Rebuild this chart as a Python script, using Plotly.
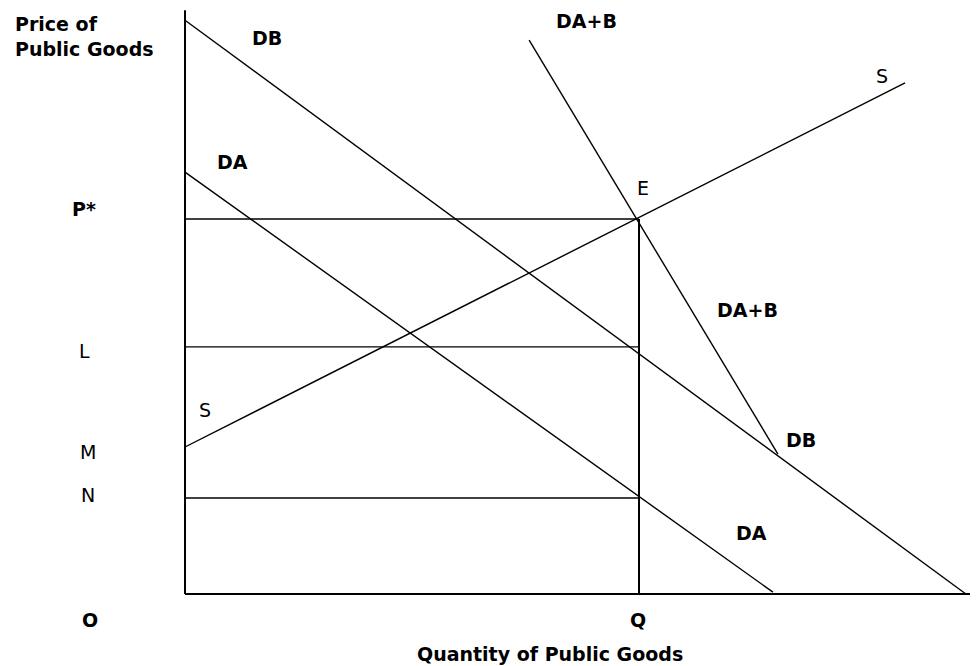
import plotly.graph_objects as go

# Demand and supply curves for a public good (arbitrary units, Q = 10, P* = 10)
db_x = [0.0, 17.2]
db_y = [15.3, 0.0]

da_x = [0.0, 12.95]
da_y = [11.25, 0.05]

dab_x = [7.58, 13.06]
dab_y = [14.77, 3.73]

s_x = [0.0, 15.86]
s_y = [3.92, 13.63]

# Price levels and equilibrium quantity
q_star = 10.0
p_star = 10.0
p_l = 6.59
p_n = 2.56

# Axis extents
x_max = 17.47
y_max = 15.57

# Labels: text, x, y, bold
labels = ["DB", "DA", "DA+B", "S", "E", "DA+B", "DB", "DA", "S",
          "P*", "L", "M", "N", "O", "Q"]
label_x = [1.81, 1.04, 8.85, 15.35, 10.09, 12.38, 13.57, 12.47, 0.44,
           -2.22, -2.22, -2.14, -2.14, -2.09, 9.98]
label_y = [14.83, 11.52, 15.28, 13.81, 10.83, 7.57, 4.11, 1.63, 4.91,
           10.27, 6.48, 3.79, 2.64, -0.69, -0.69]
label_bold = [True, True, True, False, False, True, True, True, False,
              True, False, False, False, True, True]

FONT = "DejaVu Sans"

fig = go.Figure()


def seg(x, y, width=1.4):
    fig.add_trace(go.Scatter(x=x, y=y, mode="lines",
                             line=dict(color="black", width=width),
                             hoverinfo="skip", showlegend=False))


# axes
seg([0, 0], [0, y_max], 2)
seg([0, x_max], [0, 0], 2)

# curves
seg(db_x, db_y)
seg(da_x, da_y)
seg(dab_x, dab_y)
seg(s_x, s_y)

# guide lines
seg([0, q_star], [p_star, p_star], 1.6)
seg([0, q_star], [p_l, p_l])
seg([0, q_star], [p_n, p_n])
seg([q_star, q_star], [0, p_star], 2)

for t, x, y, b in zip(labels, label_x, label_y, label_bold):
    fig.add_annotation(x=x, y=y, text=t, showarrow=False,
                       xanchor="center", yanchor="middle",
                       font=dict(family=FONT, size=19, color="black",
                                 weight="bold" if b else "normal"))

fig.add_annotation(x=-3.79, y=14.88, text="Price of<br>Public Goods",
                   showarrow=False, xanchor="left", yanchor="middle", align="left",
                   font=dict(family=FONT, size=19, color="black", weight="bold"))
fig.add_annotation(x=8.04, y=-1.6, text="Quantity of Public Goods",
                   showarrow=False, xanchor="center", yanchor="middle",
                   font=dict(family=FONT, size=19, color="black", weight="bold"))

# page body keeps an 8px margin, so the figure is 970x658
fig.update_layout(
    width=970, height=658,
    margin=dict(t=0, l=0, r=0, b=0),
    plot_bgcolor="white", paper_bgcolor="white",
    xaxis=dict(range=[-3.899, 17.467], visible=False),
    yaxis=dict(range=[-1.92, 15.627], visible=False),
)

fig.write_html("out.html")
